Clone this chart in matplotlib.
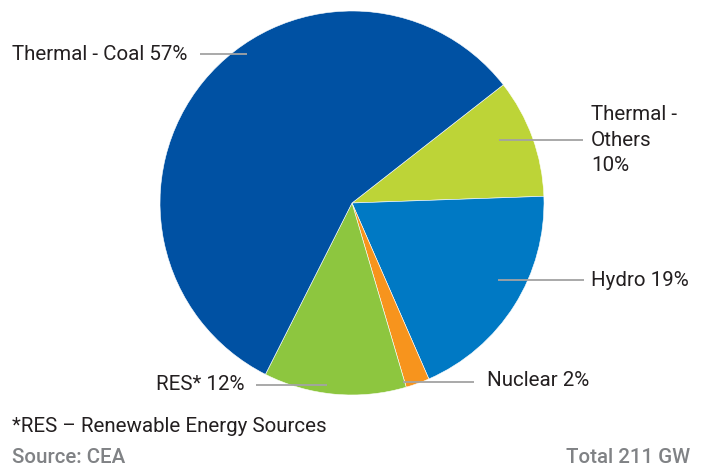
import matplotlib
matplotlib.use("Agg")
import matplotlib.pyplot as plt

labels = ["Thermal -\nOthers\n10%", "Hydro 19%", "Nuclear 2%", "RES* 12%", "Thermal - Coal 57%"]
values = [10, 19, 2, 12, 57]
colors = ["#BDD437", "#0079C4", "#F7941D", "#8DC63F", "#0051A3"]

W, H = 703, 469
fig = plt.figure(figsize=(W / 100, H / 100), dpi=100)
ax = fig.add_axes([0, 0, 1, 1])

cx, cy, r = 352, H - 203, 192
ax.pie(values, colors=colors, startangle=38, counterclock=False,
       center=(cx, cy), radius=r, frame=True,
       wedgeprops=dict(edgecolor="white", linewidth=0.4))
ax.set_xlim(0, W)
ax.set_ylim(0, H)
ax.set_aspect("equal")
ax.axis("off")

font = "Roboto"
tc = "#231F20"
lc = "#A3A3A3"
fs = 14.8

def Y(py):
    return H - py

# leader lines (pixel coords)
leaders = [((499, 140), (583, 140)),
           ((498, 280), (584, 280)),
           ((403, 382), (474, 382)),
           ((256, 385), (327, 385)),
           ((200, 54), (247, 54))]
for (x0, y0), (x1, y1) in leaders:
    ax.plot([x0, x1], [Y(y0), Y(y1)], color=lc, lw=1.3, solid_capstyle="butt")

ax.text(591, Y(140), labels[0], ha="left", va="center", fontsize=fs,
        family=font, color=tc, linespacing=1.42)
ax.text(591, Y(280), labels[1], ha="left", va="center", fontsize=fs, family=font, color=tc)
ax.text(487, Y(381), labels[2], ha="left", va="center", fontsize=fs, family=font, color=tc)
ax.text(245, Y(384), labels[3], ha="right", va="center", fontsize=fs, family=font, color=tc)
ax.text(12, Y(54), labels[4], ha="left", va="center", fontsize=fs, family=font, color=tc)

ax.text(12, Y(427), "*RES – Renewable Energy Sources", ha="left", va="center",
        fontsize=fs, family=font, color=tc)
ax.text(12, Y(457), "Source: CEA", ha="left", va="center", fontsize=fs,
        family=font, color="#808285", fontweight="medium")
ax.text(690, Y(457), "Total 211 GW", ha="right", va="center", fontsize=fs,
        family=font, color="#808285", fontweight="medium")

fig.savefig("out.png", dpi=100)
